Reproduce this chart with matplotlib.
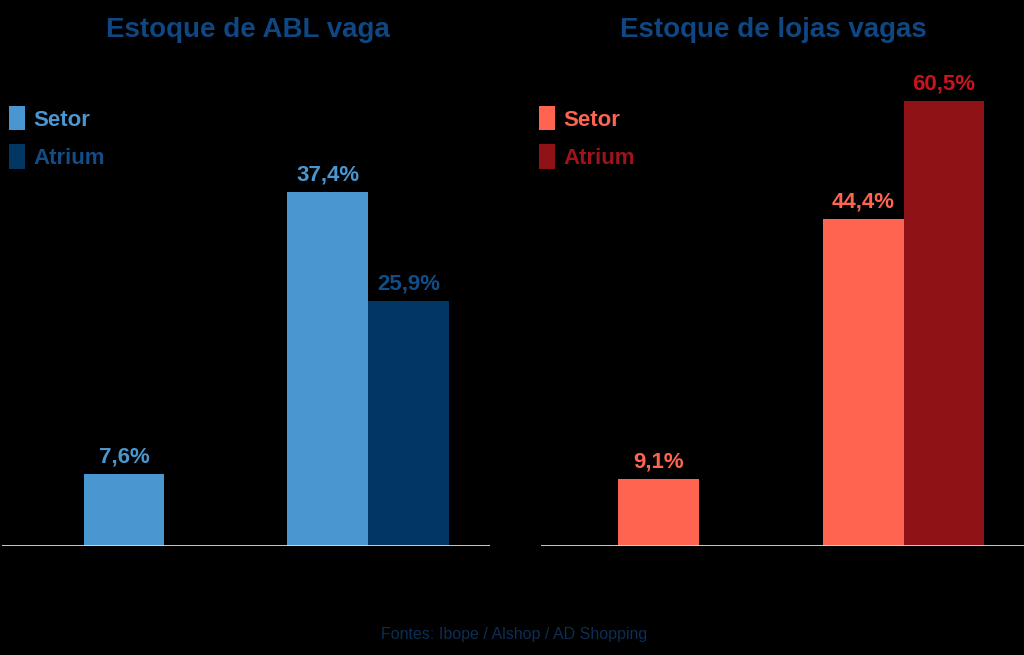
import matplotlib.pyplot as plt
from matplotlib.patches import Patch

plt.rcParams["font.family"] = ["Liberation Sans", "DejaVu Sans"]

# data
series = ["Setor", "Atrium"]
abl_setor = [7.6, 37.4]
abl_atrium = [None, 25.9]
lojas_setor = [9.1, 44.4]
lojas_atrium = [None, 60.5]

BG = "black"
TITLE_COLOR = "#0e4782"
BLUE_LIGHT = "#4a96d0"
BLUE_DARK = "#023663"
BLUE_DARK_TXT = "#114d87"
RED_LIGHT = "#fe6450"
RED_DARK = "#8f1217"
RED_DARK_TXT = "#c8141a"


def fmt(v):
    return f"{v:.1f}".replace(".", ",") + "%"


def draw_panel(ax, setor, atrium, colors, txt_colors, ylim, xlim):
    w = 0.33
    # group 0 has only the "Setor" bar, centred on the group
    for i, (s, a) in enumerate(zip(setor, atrium)):
        if a is None:
            xs, xa = i, None
        else:
            xs, xa = i - w / 2, i + w / 2
        ax.bar(xs, s, width=w, color=colors[0], zorder=2)
        ax.annotate(fmt(s), (xs, s), xytext=(0, 5), textcoords="offset points",
                    ha="center", va="bottom", fontsize=16, fontweight="bold",
                    color=txt_colors[0])
        if xa is not None:
            ax.bar(xa, a, width=w, color=colors[1], zorder=2)
            ax.annotate(fmt(a), (xa, a), xytext=(0, 5), textcoords="offset points",
                        ha="center", va="bottom", fontsize=16, fontweight="bold",
                        color=txt_colors[1])
    ax.axhline(0, color="#d9d9d9", lw=1.3, zorder=3)
    ax.set_xlim(*xlim)
    ax.set_ylim(0, ylim)
    ax.set_facecolor(BG)
    ax.axis("off")


fig = plt.figure(figsize=(10.24, 6.55), dpi=100, facecolor=BG)
H = 655.0
ax1 = fig.add_axes([2 / 1024, (H - 546) / H, 488 / 1024, 456 / H])
ax2 = fig.add_axes([541 / 1024, (H - 546) / H, 485 / 1024, 456 / H])

draw_panel(ax1, abl_setor, abl_atrium, (BLUE_LIGHT, BLUE_DARK),
           (BLUE_LIGHT, BLUE_DARK_TXT), 48.2, (-0.5, 1.5))
draw_panel(ax2, lojas_setor, lojas_atrium, (RED_LIGHT, RED_DARK),
           (RED_LIGHT, RED_DARK_TXT), 62.0, (-0.48, 1.5))

fig.text(248 / 1024, 1 - 30 / H, "Estoque de ABL vaga", ha="center", va="center",
         fontsize=20, fontweight="bold", color=TITLE_COLOR)
fig.text(773 / 1024, 1 - 30 / H, "Estoque de lojas vagas", ha="center", va="center",
         fontsize=20, fontweight="bold", color=TITLE_COLOR)


def add_legend(ax, colors, txt_colors, x0):
    handles = [Patch(facecolor=c, edgecolor="none") for c in colors]
    leg = ax.legend(handles, series, loc="upper left",
                    bbox_to_anchor=(x0 / 1024, 1 - 106 / H),
                    bbox_transform=fig.transFigure, frameon=False,
                    handlelength=0.7, handleheight=1.3, handletextpad=0.4,
                    labelspacing=0.62, borderpad=0, borderaxespad=0,
                    prop={"size": 16, "weight": "bold"})
    for t, c in zip(leg.get_texts(), txt_colors):
        t.set_color(c)


add_legend(ax1, (BLUE_LIGHT, BLUE_DARK), (BLUE_LIGHT, BLUE_DARK_TXT), 9)
add_legend(ax2, (RED_LIGHT, RED_DARK), (RED_LIGHT, "#a01419"), 539)

fig.text(514 / 1024, 1 - 634 / H, "Fontes: Ibope / Alshop / AD Shopping",
         ha="center", va="center", fontsize=11.5, color="#0e2d52")

fig.savefig("out.png", dpi=100, facecolor=BG)
